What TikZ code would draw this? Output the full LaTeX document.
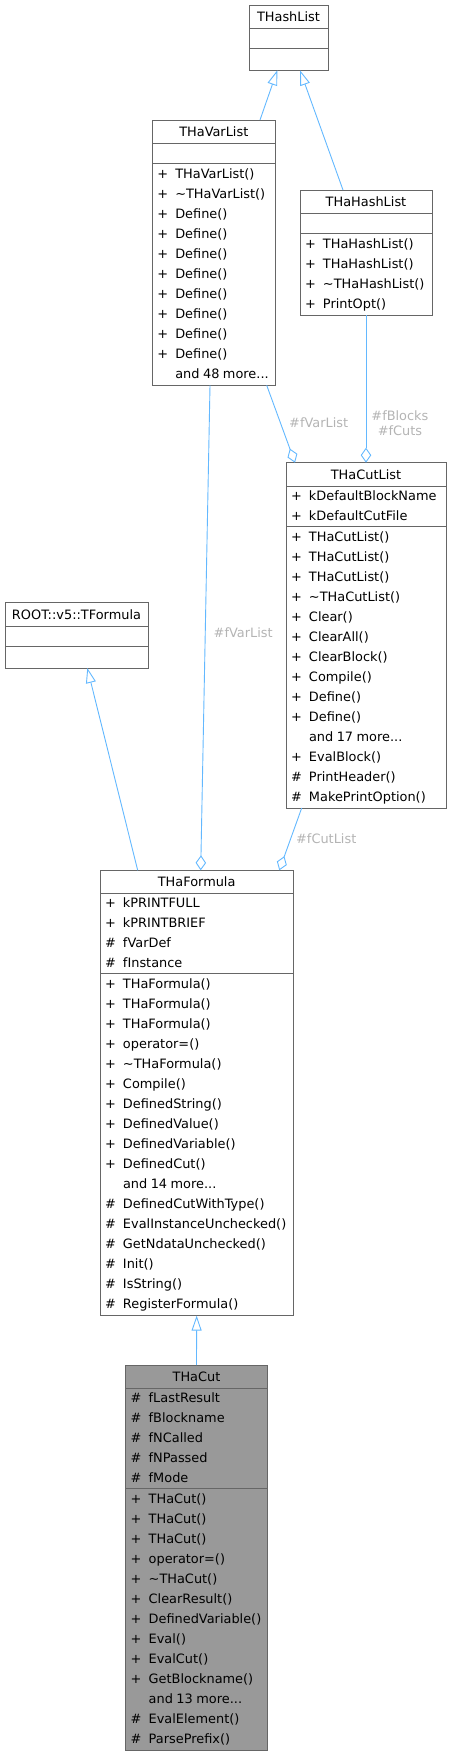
\documentclass[tikz,border=0pt]{standalone}
\usepackage{fontspec}
\setmainfont{DejaVu Sans}
\usetikzlibrary{arrows.meta,positioning,calc}
\definecolor{edgeblue}{HTML}{63B8FF}
\definecolor{boxgray}{HTML}{666666}
\definecolor{labelgray}{HTML}{B4B4B4}
\definecolor{cutgray}{HTML}{999999}
\newcommand{\umlfont}{\fontsize{12.9}{20}\selectfont}
\newcommand{\mrow}[2]{\makebox[18pt][l]{#1}#2\strut}
\newcommand{\andmore}[1]{\mrow{}{\mbox{and\hspace{3.5pt}#1\hspace{3.5pt}more...}}}

\begin{document}
\begin{tikzpicture}[
    x=1pt, y=1pt,
    node distance=0pt,
    boxpart/.style={rectangle, draw=boxgray, line width=0.9pt, fill=white, inner xsep=5pt, inner ysep=0pt, outer sep=0pt, font=\umlfont},
    classhead/.style={boxpart, minimum width=#1, minimum height=23.3pt, anchor=north west},
    classblank/.style={boxpart, minimum width=#1, minimum height=20pt},
    classbody/.style={boxpart, text width=#1, align=left},
    lastpart/.style={inner ysep=1pt},
    inherit/.style={draw=edgeblue, line width=0.9pt, -{Triangle[open, length=15pt, width=10pt]}},
    agg/.style={draw=edgeblue, line width=0.9pt, {Diamond[open, length=15pt, width=10.5pt]}-},
    role/.style={font=\fontsize{12.9}{15}\selectfont, text=labelgray, inner sep=2pt, align=center},
]
\useasboundingbox (0,0) rectangle (451,-1756);

% THashList
\node[classhead=79pt] (hlist) at (249,-5) {THashList};
\node[classblank=79pt, below=of hlist] (hlist-a) {};
\node[classblank=79pt, minimum height=22pt, below=of hlist-a] (hlist-m) {};

% THaVarList
\node[classhead=123pt] (varlist) at (152.3,-120) {THaVarList};
\node[classblank=123pt, below=of varlist] (varlist-a) {};
\node[classbody=113pt, lastpart, below=of varlist-a] (varlist-m) {\mrow{+}{THaVarList()}\\ \mrow{+}{\textasciitilde THaVarList()}\\
  \mrow{+}{Define()}\\ \mrow{+}{Define()}\\ \mrow{+}{Define()}\\ \mrow{+}{Define()}\\
  \mrow{+}{Define()}\\ \mrow{+}{Define()}\\ \mrow{+}{Define()}\\ \mrow{+}{Define()}\\
  \andmore{48}};

% THaHashList
\node[classhead=132pt] (halist) at (300,-190) {THaHashList};
\node[classblank=132pt, below=of halist] (halist-a) {};
\node[classbody=122pt, lastpart, below=of halist-a] (halist-m) {\mrow{+}{THaHashList()}\\ \mrow{+}{THaHashList()}\\
  \mrow{+}{\textasciitilde THaHashList()}\\ \mrow{+}{PrintOpt()}};

% THaCutList
\node[classhead=160pt] (cutlist) at (286,-462.7) {THaCutList};
\node[classbody=150pt, below=of cutlist] (cutlist-a) {\mrow{+}{kDefaultBlockName}\\ \mrow{+}{kDefaultCutFile}};
\node[classbody=150pt, lastpart, below=of cutlist-a] (cutlist-m) {\mrow{+}{THaCutList()}\\ \mrow{+}{THaCutList()}\\
  \mrow{+}{THaCutList()}\\ \mrow{+}{\textasciitilde THaCutList()}\\ \mrow{+}{Clear()}\\ \mrow{+}{ClearAll()}\\
  \mrow{+}{ClearBlock()}\\ \mrow{+}{Compile()}\\ \mrow{+}{Define()}\\ \mrow{+}{Define()}\\
  \andmore{17}\\ \mrow{+}{EvalBlock()}\\ \mrow{\#}{PrintHeader()}\\ \mrow{\#}{MakePrintOption()}};

% ROOT::v5::TFormula
\node[classhead=143pt] (tform) at (5,-602.7) {ROOT::v5::TFormula};
\node[classblank=143pt, below=of tform] (tform-a) {};
\node[classblank=143pt, minimum height=22pt, below=of tform-a] (tform-m) {};

% THaFormula
\node[classhead=193.3pt] (formula) at (100,-870.3) {THaFormula};
\node[classbody=183.3pt, below=of formula] (formula-a) {\mrow{+}{kPRINTFULL}\\ \mrow{+}{kPRINTBRIEF}\\
  \mrow{\#}{fVarDef}\\ \mrow{\#}{fInstance}};
\node[classbody=183.3pt, lastpart, below=of formula-a] (formula-m) {\mrow{+}{THaFormula()}\\ \mrow{+}{THaFormula()}\\
  \mrow{+}{THaFormula()}\\ \mrow{+}{operator=()}\\ \mrow{+}{\textasciitilde THaFormula()}\\ \mrow{+}{Compile()}\\
  \mrow{+}{DefinedString()}\\ \mrow{+}{DefinedValue()}\\ \mrow{+}{DefinedVariable()}\\ \mrow{+}{DefinedCut()}\\
  \andmore{14}\\ \mrow{\#}{DefinedCutWithType()}\\ \mrow{\#}{EvalInstanceUnchecked()}\\
  \mrow{\#}{GetNdataUnchecked()}\\ \mrow{\#}{Init()}\\ \mrow{\#}{IsString()}\\ \mrow{\#}{RegisterFormula()}};

% THaCut
\node[classhead=141.6pt, fill=cutgray] (cut) at (125.7,-1365) {THaCut};
\node[classbody=131.6pt, fill=cutgray, below=of cut] (cut-a) {\mrow{\#}{fLastResult}\\ \mrow{\#}{fBlockname}\\
  \mrow{\#}{fNCalled}\\ \mrow{\#}{fNPassed}\\ \mrow{\#}{fMode}};
\node[classbody=131.6pt, fill=cutgray, lastpart, below=of cut-a] (cut-m) {\mrow{+}{THaCut()}\\ \mrow{+}{THaCut()}\\
  \mrow{+}{THaCut()}\\ \mrow{+}{operator=()}\\ \mrow{+}{\textasciitilde THaCut()}\\ \mrow{+}{ClearResult()}\\
  \mrow{+}{DefinedVariable()}\\ \mrow{+}{Eval()}\\ \mrow{+}{EvalCut()}\\ \mrow{+}{GetBlockname()}\\
  \andmore{13}\\ \mrow{\#}{EvalElement()}\\ \mrow{\#}{ParsePrefix()}};

% Inheritance
\draw[inherit] ([xshift=107.7pt]varlist.north west) -- ([xshift=28.3pt]hlist-m.south west);
\draw[inherit] ([xshift=43pt]halist.north west) -- ([xshift=51pt]hlist-m.south west);
\draw[inherit] ([xshift=37.7pt]formula.north west) -- ([xshift=82.3pt]tform-m.south west);
\draw[inherit] (cut.north) -- (formula-m.south);

% Members
\draw[agg] ([xshift=9pt]cutlist.north west) -- node[role, right=6.5pt, pos=0.52] {\#fVarList} ([xshift=114.4pt]varlist-m.south west);
\draw[agg] (cutlist.north) -- node[role, right=3pt, pos=0.27] {\#fBlocks\\\#fCuts} (halist-m.south);
\draw[agg] ([xshift=100.7pt]formula.north west) -- node[role, right=6pt, pos=0.49] {\#fVarList} ([xshift=57.7pt]varlist-m.south west);
\draw[agg] ([xshift=179.3pt]formula.north west) -- node[role, right=3pt, pos=0.51] {\#fCutList} ([xshift=15.7pt]cutlist-m.south west);
\end{tikzpicture}
\end{document}
